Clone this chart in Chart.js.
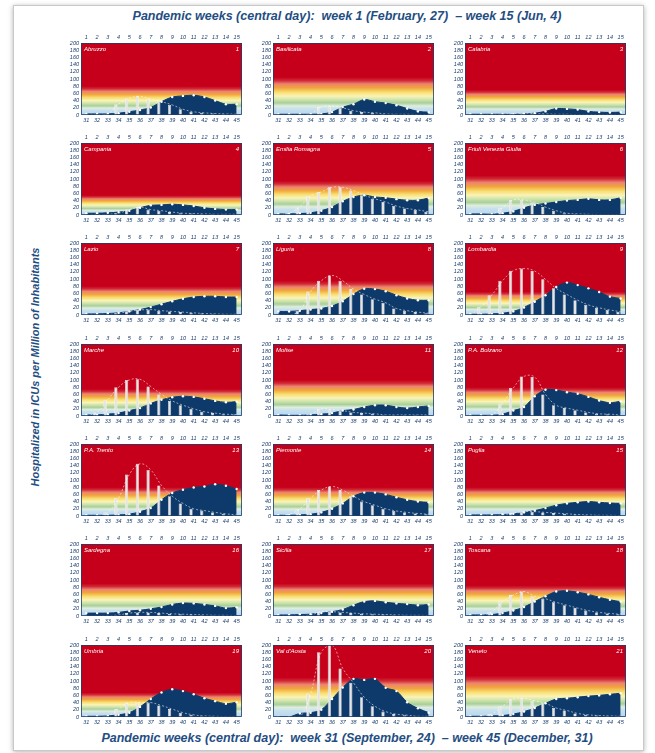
<!DOCTYPE html>
<html lang="en">
<head>
<meta charset="UTF-8">
<title>ICU hospitalizations per million - Italian regions</title>
<script src="https://cdn.jsdelivr.net/npm/chart.js"></script>
<style>
  html, body { margin:0; padding:0; background:#fff; width:655px; height:753px; overflow:hidden; }
  .frame { position:absolute; left:13px; top:5px; width:629px; height:744px;
           border:1px solid #c9c9c9; box-shadow:0 1px 5px rgba(0,0,0,0.3); background:#fff; }
  .title { position:absolute; left:67px; width:560px; text-align:center; color:#1f4e82;
           font:italic bold 12.5px "Liberation Sans", Arial, sans-serif; white-space:nowrap; }
  .ylab { position:absolute; left:35px; top:367px; transform:translate(-50%,-50%) rotate(-90deg);
          color:#1f4e82; font:italic bold 11px "Liberation Sans", Arial, sans-serif; white-space:nowrap; }
  canvas { position:absolute; }
</style>
</head>
<body>
<div class="frame"></div>
<div class="title" style="top:9px">Pandemic weeks (central day):&nbsp; week 1 (February, 27) &nbsp;– week 15 (Jun, 4)</div>
<div class="title" style="top:731px">Pandemic weeks (central day):&nbsp; week 31 (September, 24) &nbsp;– week 45 (December, 31)</div>
<div class="ylab">Hospitalized in ICUs per Million of Inhabitants</div>
<div id="panels"></div>

<script>
// weeks on the two x axes, y ticks
const weeksTop = ['1','2','3','4','5','6','7','8','9','10','11','12','13','14','15'];
const weeksBottom = ['31','32','33','34','35','36','37','38','39','40','41','42','43','44','45'];
const yTicks = [0, 20, 40, 60, 80, 100, 120, 140, 160, 180, 200];

const regions = ['Abruzzo','Basilicata','Calabria','Campania','Emilia Romagna','Friuli Venezia Giulia',
  'Lazio','Liguria','Lombardia','Marche','Molise','P.A. Bolzano','P.A. Trento','Piemonte','Puglia',
  'Sardegna','Sicilia','Toscana','Umbria',"Val d'Aosta",'Veneto'];

// level where the background turns fully red
const redLevel = [80,105,70,55,95,110,80,95,65,75,100,80,80,80,80,90,90,85,68,110,115];

// first wave (weeks 1-15), white bars
const firstWave = [
  [0,1,3,30,46,52,44,37,28,16,9,6,4,3,2],
  [0,0,0,3,22,25,20,12,8,6,3,2,2,1,1],
  [0,0,1,2,4,5,4,3,2,2,1,1,1,1,0],
  [0,1,2,5,15,22,15,12,8,5,4,3,2,2,2],
  [0,5,23,53,64,77,77,68,55,45,36,25,18,14,9],
  [0,0,2,20,42,42,35,22,12,5,3,2,1,1,1],
  [0,0,1,5,10,14,15,12,10,8,6,4,3,2,2],
  [0,0,12,65,95,110,95,72,57,44,34,18,12,8,5],
  [0,23,55,95,123,129,122,99,74,57,41,28,20,14,9],
  [0,10,45,80,100,102,82,60,42,30,20,12,8,5,4],
  [0,0,1,5,20,18,15,10,8,6,3,3,3,3,3],
  [0,0,3,35,78,110,108,60,30,22,16,10,6,5,3],
  [0,0,10,50,115,145,128,85,55,35,20,15,10,6,3],
  [0,5,20,50,72,82,72,55,40,30,20,14,10,7,5],
  [0,0,1,3,8,12,12,10,8,6,4,3,2,2,1],
  [0,0,1,3,8,10,10,8,6,5,4,3,2,2,1],
  [0,0,1,3,12,12,10,8,6,5,4,3,2,2,1],
  [0,2,12,40,58,68,55,48,38,30,22,15,10,7,5],
  [0,0,3,22,40,40,40,32,22,12,6,3,2,1,1],
  [0,0,0,65,180,200,135,95,55,30,15,8,5,2,2],
  [0,2,8,30,50,52,45,38,25,18,10,6,4,3,2]
];

// second wave (weeks 31-45), navy area
const secondWave = [
  [3,3,3,5,9,14,21,37,50,53,55,50,40,30,30],
  [2,2,2,2,3,8,22,30,43,37,33,27,18,10,8],
  [2,2,2,2,2,3,5,10,18,17,15,10,8,7,8],
  [5,5,6,8,12,20,27,28,30,28,25,20,17,15,15],
  [3,3,4,6,12,22,38,50,55,50,48,44,41,41,47],
  [3,3,2,5,10,20,28,32,36,40,42,45,42,42,48],
  [3,3,4,6,10,15,22,30,38,45,50,52,52,50,50],
  [10,10,12,15,18,25,38,58,73,72,66,55,46,41,41],
  [2,2,3,5,10,21,37,55,78,90,83,74,64,51,46],
  [3,3,5,8,15,22,35,45,52,55,53,48,42,38,40],
  [3,2,2,3,5,8,15,18,25,30,30,25,22,25,28],
  [2,2,2,5,15,25,55,73,72,66,62,53,43,37,41],
  [2,2,2,3,5,12,22,45,64,73,79,82,88,84,75],
  [2,2,3,5,10,20,35,55,65,65,60,52,45,40,38],
  [3,3,3,4,6,10,15,22,30,35,38,40,38,36,35],
  [8,8,8,10,14,16,20,25,32,36,35,32,28,22,24],
  [3,3,4,5,8,12,18,30,40,42,38,35,33,30,32],
  [3,3,4,8,15,25,40,55,68,70,66,60,52,45,40],
  [2,2,3,6,12,28,50,68,77,72,63,52,44,37,41],
  [0,0,10,12,20,50,82,106,103,106,81,72,41,24,12],
  [2,2,3,4,8,15,25,38,50,52,55,58,60,63,66]
];

// layout of the 7x3 grid (plot areas)
const colLeft = [81, 273, 465];
const rowTop = [43, 143, 243, 344, 444, 544, 645];
const plotW = 161, plotH = 72, axisW = 17, axisH = 10;

const NAVY = '#0d3a6a';
const INK = '#1d3f6e';
const RED = '#c6001a';
const bandStops = [
  [0.00, '#b7d6ee'], [0.16, '#c6e0ef'], [0.24, '#dfeedc'], [0.32, '#a9cf9b'],
  [0.42, '#d4e7ad'], [0.50, '#fbf3b8'], [0.60, '#f8df72'], [0.72, '#f1a43a'],
  [0.82, '#ec8472'], [0.91, '#d22a36'], [1.00, RED]
];

const panelBg = {
  id: 'panelBg',
  beforeDraw(chart, args, opts) {
    const { ctx, chartArea: a, scales: { y } } = chart;
    const yRed = y.getPixelForValue(opts.red);
    const y0 = y.getPixelForValue(0);
    ctx.save();
    ctx.fillStyle = RED;
    ctx.fillRect(a.left, a.top, a.width, a.height);
    const g = ctx.createLinearGradient(0, y0, 0, yRed);
    bandStops.forEach(s => g.addColorStop(s[0], s[1]));
    ctx.fillStyle = g;
    ctx.fillRect(a.left, yRed, a.width, y0 - yRed);
    ctx.restore();
  },
  afterDatasetsDraw(chart, args, opts) {
    const { ctx, chartArea: a } = chart;
    ctx.save();
    ctx.strokeStyle = INK;
    ctx.lineWidth = 0.8;
    ctx.strokeRect(a.left + 0.5, a.top + 0.5, a.width - 1, a.height - 1);
    ctx.fillStyle = '#ffffff';
    ctx.font = 'italic 6px "Liberation Sans", Arial, sans-serif';
    ctx.textBaseline = 'top';
    ctx.textAlign = 'left';
    ctx.fillText(opts.name, a.left + 3, a.top + 3);
    ctx.textAlign = 'right';
    ctx.fillText(String(opts.num), a.right - 3, a.top + 3);
    ctx.restore();
  }
};

const tickFont = { family: '"Liberation Sans", Arial, sans-serif', size: 5.5, style: 'italic' };

regions.forEach((name, i) => {
  const col = i % 3, row = Math.floor(i / 3);
  const cv = document.createElement('canvas');
  cv.width = plotW + axisW + 4;
  cv.height = plotH + 2 * axisH;
  cv.style.left = (colLeft[col] - axisW) + 'px';
  cv.style.top = (rowTop[row] - axisH) + 'px';
  document.getElementById('panels').appendChild(cv);

  new Chart(cv, {
    data: {
      labels: weeksBottom,
      datasets: [
        {
          type: 'line', xAxisID: 'xTop', data: firstWave[i],
          borderColor: 'rgba(255,255,255,0.8)', borderWidth: 0.7, borderDash: [2, 2],
          tension: 0.4, pointRadius: 0, fill: false
        },
        {
          type: 'bar', xAxisID: 'xTop', data: firstWave[i],
          backgroundColor: '#e4e4e4', borderColor: '#fafafa', borderWidth: 0.6,
          barPercentage: 0.6, categoryPercentage: 1
        },
        {
          type: 'line', xAxisID: 'x', data: secondWave[i],
          borderColor: NAVY, borderWidth: 1, backgroundColor: NAVY, fill: 'origin',
          tension: 0.3, pointRadius: 1.2, pointBackgroundColor: '#ffffff',
          pointBorderColor: '#ffffff', pointBorderWidth: 0
        }
      ]
    },
    options: {
      responsive: false,
      animation: false,
      devicePixelRatio: 1,
      layout: { padding: { left: 0, right: 4, top: 0, bottom: 0 } },
      plugins: {
        legend: { display: false },
        tooltip: { enabled: false },
        panelBg: { red: redLevel[i], name: name, num: i + 1 }
      },
      scales: {
        x: {
          type: 'category', labels: weeksBottom, position: 'bottom', offset: true,
          grid: { display: false, drawTicks: false }, border: { display: false },
          ticks: { font: tickFont, color: INK, padding: 2, minRotation: 0, maxRotation: 0, autoSkip: false },
          afterFit(s) { s.height = axisH; }
        },
        xTop: {
          type: 'category', labels: weeksTop, position: 'top', offset: true,
          grid: { display: false, drawTicks: false }, border: { display: false },
          ticks: { font: tickFont, color: INK, padding: 2, minRotation: 0, maxRotation: 0, autoSkip: false },
          afterFit(s) { s.height = axisH; }
        },
        y: {
          min: 0, max: 200,
          afterBuildTicks(s) { s.ticks = yTicks.map(v => ({ value: v })); },
          grid: { display: false, drawTicks: false }, border: { display: false },
          ticks: { font: tickFont, color: INK, padding: 2, autoSkip: false },
          afterFit(s) { s.width = axisW; }
        }
      }
    },
    plugins: [panelBg]
  });
});
</script>
</body>
</html>
